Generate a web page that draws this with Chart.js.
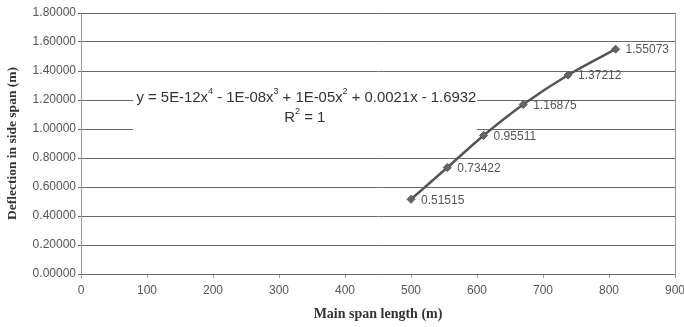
<!DOCTYPE html>
<html>
<head>
<meta charset="utf-8">
<script src="https://cdn.jsdelivr.net/npm/chart.js@4"></script>
<style>
  html, body { margin: 0; padding: 0; background: #fff; }
  #wrap { width: 684px; height: 327px; }
</style>
</head>
<body>
<div id="wrap"><canvas id="c"></canvas></div>
<script>
const spanLengths = [500, 555, 610, 670, 738, 810];
const deflections = [0.51515, 0.73422, 0.95511, 1.16875, 1.37212, 1.55073];
const pointLabels = ["0.51515", "0.73422", "0.95511", "1.16875", "1.37212", "1.55073"];
const xTickValues = [0, 100, 200, 300, 400, 500, 600, 700, 800, 900];
const yTickValues = [0, 0.2, 0.4, 0.6, 0.8, 1.0, 1.2, 1.4, 1.6, 1.8];
// trendline text, split as [text, isSuperscript]
const trendEquation = [["y = 5E-12x", false], ["4", true], [" - 1E-08x", false], ["3", true],
  [" + 1E-05x", false], ["2", true], [" + 0.0021x - 1.6932", false]];
const trendR2 = [["R", false], ["2", true], [" = 1", false]];

const gridGray = "#6a6a6a";
const textGray = "#555";
const sans = "'Liberation Sans', Arial, sans-serif";

function drawRich(ctx, parts, x, y, size, centered) {
  const big = size + "px " + sans, small = Math.round(size * 0.6) + "px " + sans;
  let total = 0;
  parts.forEach(([t, sup]) => { ctx.font = sup ? small : big; total += ctx.measureText(t).width; });
  let cx = centered ? x - total / 2 : x;
  ctx.textAlign = "left";
  parts.forEach(([t, sup]) => {
    ctx.font = sup ? small : big;
    ctx.fillText(t, cx, sup ? y - size * 0.42 : y);
    cx += ctx.measureText(t).width;
  });
}

// labels next to each point + trendline equation box + right border
const extras = {
  id: "extras",
  afterDatasetsDraw(chart) {
    const ctx = chart.ctx;
    const xs = chart.scales.x, ys = chart.scales.y;
    const area = chart.chartArea;
    ctx.save();
    ctx.strokeStyle = "#999";
    ctx.lineWidth = 1;
    ctx.beginPath();
    ctx.moveTo(Math.round(area.right) + 0.5, area.top);
    ctx.lineTo(Math.round(area.right) + 0.5, area.bottom);
    ctx.stroke();

    ctx.font = "12px " + sans;
    ctx.fillStyle = textGray;
    ctx.textBaseline = "middle";
    ctx.textAlign = "left";
    chart.getDatasetMeta(0).data.forEach((pt, i) => {
      ctx.fillText(pointLabels[i], pt.x + 10, pt.y + 1);
    });

    const bx0 = xs.getPixelForValue(79), bx1 = xs.getPixelForValue(600);
    const by0 = ys.getPixelForValue(1.33), by1 = ys.getPixelForValue(0.96);
    ctx.fillStyle = "#fff";
    ctx.fillRect(bx0, by0, bx1 - bx0, by1 - by0);
    ctx.fillStyle = "#333";
    drawRich(ctx, trendEquation, xs.getPixelForValue(84), ys.getPixelForValue(1.215), 14.9, false);
    drawRich(ctx, trendR2, xs.getPixelForValue(339), ys.getPixelForValue(1.08), 14.9, true);
    ctx.restore();
  }
};

new Chart(document.getElementById("c"), {
  type: "line",
  data: {
    datasets: [{
      data: spanLengths.map((x, i) => ({ x: x, y: deflections[i] })),
      borderColor: "#555",
      backgroundColor: "#666",
      borderWidth: 2.5,
      pointStyle: "rectRot",
      pointRadius: 4,
      pointBorderWidth: 1,
      cubicInterpolationMode: "monotone",
      fill: false
    }]
  },
  options: {
    responsive: true,
    maintainAspectRatio: false,
    animation: false,
    layout: { padding: { top: 13, right: 9, left: 0, bottom: 0 } },
    plugins: { legend: { display: false }, tooltip: { enabled: false } },
    scales: {
      x: {
        type: "linear",
        min: 0,
        max: 900,
        afterBuildTicks(scale) { scale.ticks = xTickValues.map(v => ({ value: v })); },
        afterFit(scale) { scale.height = 53; scale.paddingRight = 0; },
        grid: { drawOnChartArea: false, drawTicks: true, tickLength: 4, color: "#999" },
        border: { display: false },
        ticks: {
          color: textGray,
          font: { family: sans, size: 12 },
          padding: 5,
          maxRotation: 0
        },
        title: {
          display: true,
          text: "Main span length (m)",
          color: "#333",
          font: { family: "'Liberation Serif', 'Times New Roman', serif", size: 14, weight: "bold" },
          padding: { top: 5 }
        }
      },
      y: {
        min: 0,
        max: 1.8,
        afterBuildTicks(scale) { scale.ticks = yTickValues.map(v => ({ value: v })); },
        afterFit(scale) { scale.width = 81; },
        grid: { color: gridGray, lineWidth: 1, drawTicks: true, tickLength: 3 },
        border: { display: true, color: "#999" },
        ticks: {
          color: textGray,
          font: { family: sans, size: 12 },
          padding: 2,
          callback: v => v.toFixed(5)
        },
        title: {
          display: true,
          text: "Deflection in side span (m)",
          color: "#333",
          font: { family: "'Liberation Serif', 'Times New Roman', serif", size: 13.5, weight: "bold" },
          padding: { bottom: 0 }
        }
      }
    }
  },
  plugins: [extras]
});
</script>
</body>
</html>
